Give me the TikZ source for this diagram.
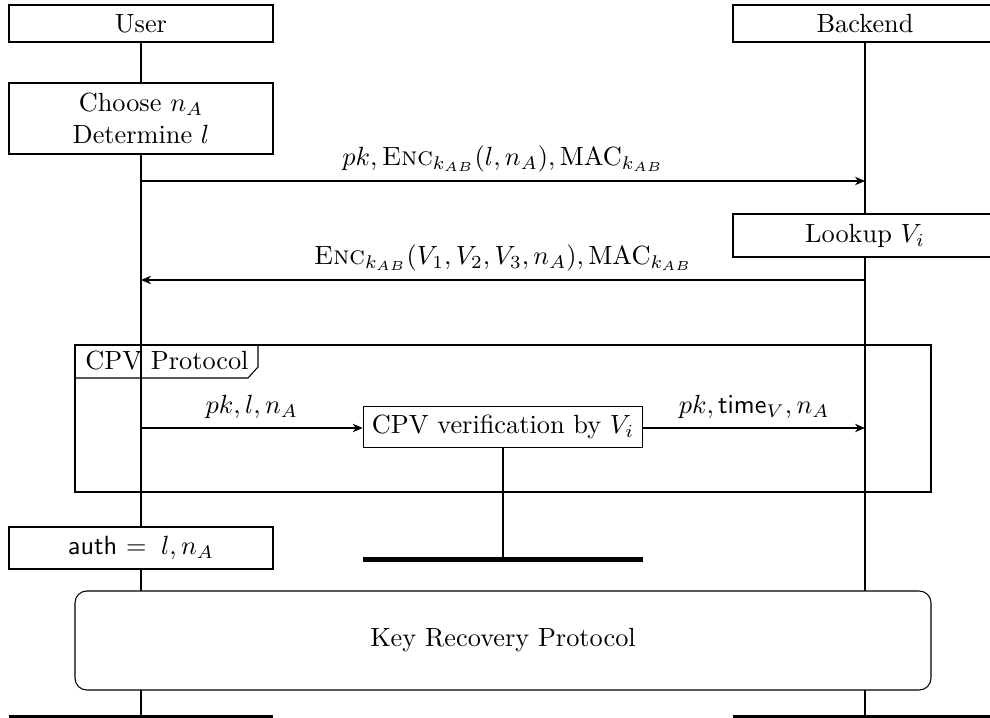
\documentclass[tikz,border=0pt]{standalone}
\usetikzlibrary{arrows.meta}
\def\pxu{0.38pt}
\begin{document}
\begin{tikzpicture}[x=0.38pt, y=-0.38pt,
  >={Stealth[length=3.8pt,width=3.2pt,inset=1.2pt]},
  lifeline/.style={thick},
  endbar/.style={line width=2pt},
  actor/.style={draw, fill=white, minimum width=264*\pxu, inner sep=0pt},
  actionbox/.style={draw, fill=white, minimum width=264*\pxu, align=center, inner sep=0pt},
  msg/.style={->},
  msglabel/.style={above}]
\useasboundingbox (0,0) rectangle (990,718);

% lifelines
\coordinate (uend) at (141,718);
\coordinate (bend) at (865,718);
\draw[lifeline] (141,42) -- (uend);
\draw[lifeline] (865,42) -- (bend);

% participants
\node[actor, minimum height=37*\pxu] (user) at (141,23.5) {User};
\node[actor, minimum height=37*\pxu] (backend) at (865,23.5) {Backend};

% local actions
\node[actionbox, minimum height=71*\pxu] (choose) at (141,118.5) {Choose $n_A$\\Determine $l$};
\node[actionbox, minimum height=43*\pxu] (lookup) at (865,235.5) {Lookup $V_i$};

% first exchange
\coordinate (m1u) at (141,181);
\coordinate (m1b) at (865,181);
\draw[msg] (m1u) -- node[msglabel] {$pk, \textsc{Enc}_{k_{AB}}(l, n_A), \mathrm{MAC}_{k_{AB}}$} (m1b);
\coordinate (m2u) at (141,280);
\coordinate (m2b) at (865,280);
\draw[msg] (m2b) -- node[msglabel] {$\textsc{Enc}_{k_{AB}}(V_1, V_2, V_3, n_A), \mathrm{MAC}_{k_{AB}}$} (m2u);

% CPV protocol frame
\draw (75,345) rectangle (931,492);
\draw (75,378) -- (248,378) -- (258,367) -- (258,345);
\node (cpvtitle) at (167,361) {CPV Protocol};

% verifier instance
\node[draw, fill=white, minimum height=36*\pxu, inner sep=3.3pt] (cpv) at (503,427) {CPV verification by $V_i$};
\coordinate (cpvend) at (503,559.5);
\draw[lifeline] (cpv.south) -- (cpvend);
\draw[line width=1.6pt] (363,559.5) -- (643,559.5);
\coordinate (m3u) at (141,428);
\coordinate (m3b) at (865,428);
\draw[msg] (m3u) -- node[msglabel] {$pk, l, n_A$} (m3u -| cpv.west);
\draw[msg] (m3b -| cpv.east) -- node[msglabel] {$pk, \mathsf{time}_V, n_A$} (m3b);

% result
\node[actionbox, minimum height=42*\pxu] (auth) at (141,548) {\textsf{auth} $=\; l, n_A$};

% key recovery
\node[draw, fill=white, rounded corners=4.5pt, minimum width=856*\pxu, minimum height=99*\pxu] (krp) at (503,640.5) {Key Recovery Protocol};

% end of lifelines
\draw[endbar] (9,718) -- (273,718);
\draw[endbar] (733,718) -- (997,718);
\end{tikzpicture}
\end{document}
